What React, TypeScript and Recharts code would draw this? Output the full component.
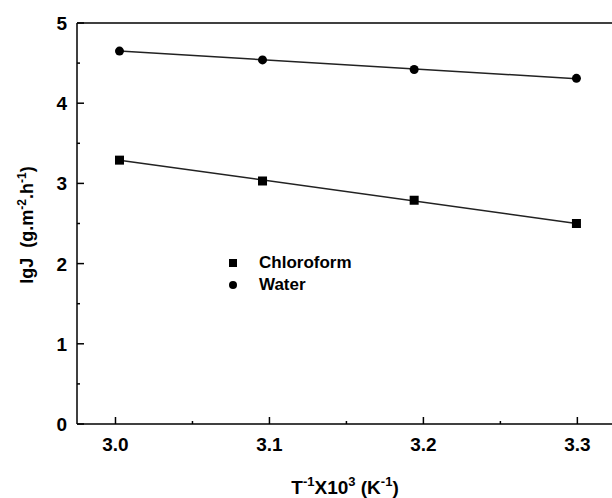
import { ComposedChart, Scatter, XAxis, YAxis, ReferenceLine } from "recharts";

const temps = [3.0026, 3.0955, 3.194, 3.2994];
const water = [4.65, 4.54, 4.42, 4.31];
const chloroform = [3.29, 3.03, 2.79, 2.5];

const fitX = [3.0026, 3.2994];
const waterFit = [4.65, 4.305];
const chloroformFit = [3.29, 2.5];

const xTicks = [3.0, 3.05, 3.1, 3.15, 3.2, 3.25, 3.3];
const yTicks = [0, 0.5, 1, 1.5, 2, 2.5, 3, 3.5, 4, 4.5, 5];

const waterData = temps.map((x, i) => ({ x, y: water[i] }));
const chloroformData = temps.map((x, i) => ({ x, y: chloroform[i] }));
const waterFitData = fitX.map((x, i) => ({ x, y: waterFit[i] }));
const chloroformFitData = fitX.map((x, i) => ({ x, y: chloroformFit[i] }));

const FONT = "'Liberation Sans', Arial, sans-serif";

const isMajor = (v: number, step: number) => Math.abs(v / step - Math.round(v / step)) < 1e-6;

function XTick({ x, y, payload }: any) {
  const major = isMajor(payload.value, 0.1);
  return (
    <g>
      <line x1={x} x2={x} y1={y} y2={y - (major ? 7 : 3)} stroke="#000" strokeWidth={1.5} />
      {major && (
        <text x={x} y={y + 27} textAnchor="middle" fontFamily={FONT} fontWeight="bold" fontSize={19} fill="#000">
          {payload.value.toFixed(1)}
        </text>
      )}
    </g>
  );
}

function YTick({ x, y, payload }: any) {
  const major = isMajor(payload.value, 1);
  return (
    <g>
      <line x1={x} x2={x + (major ? 7 : 3)} y1={y} y2={y} stroke="#000" strokeWidth={1.5} />
      {major && (
        <text x={x - 10} y={y + 7} textAnchor="end" fontFamily={FONT} fontWeight="bold" fontSize={19} fill="#000">
          {payload.value}
        </text>
      )}
    </g>
  );
}

function XTitle() {
  return (
    <text x={345} y={494} textAnchor="middle" fontFamily={FONT} fontWeight="bold" fontSize={19} fill="#000">
      T<tspan dy={-8} fontSize={13}>-1</tspan>
      <tspan dy={8}>X10</tspan>
      <tspan dy={-8} fontSize={13}>3</tspan>
      <tspan dy={8}> (K</tspan>
      <tspan dy={-8} fontSize={13}>-1</tspan>
      <tspan dy={8}>)</tspan>
    </text>
  );
}

function YTitle() {
  return (
    <text
      x={0}
      y={0}
      transform="translate(33,225) rotate(-90)"
      textAnchor="middle"
      fontFamily={FONT}
      fontWeight="bold"
      fontSize={18}
      fill="#000"
    >
      lgJ{"\u00a0\u00a0"}(g.m<tspan dy={-7} fontSize={12}>-2</tspan>
      <tspan dy={7}>.h</tspan>
      <tspan dy={-7} fontSize={12}>-1</tspan>
      <tspan dy={7}>)</tspan>
    </text>
  );
}

const Square = ({ cx, cy }: any) => <rect x={cx - 4.5} y={cy - 4.5} width={9} height={9} fill="#000" />;
const Circle = ({ cx, cy }: any) => <circle cx={cx} cy={cy} r={4.5} fill="#000" />;
const NoShape = () => <g />;

function LegendBox() {
  return (
    <div
      style={{
        position: "absolute",
        left: 229,
        top: 252,
        fontFamily: FONT,
        fontWeight: "bold",
        fontSize: 17,
        lineHeight: "22px",
        color: "#000",
      }}
    >
      <div style={{ display: "flex", alignItems: "center" }}>
        <span style={{ display: "inline-block", width: 8, height: 8, background: "#000", marginRight: 22 }} />
        Chloroform
      </div>
      <div style={{ display: "flex", alignItems: "center" }}>
        <span style={{ display: "inline-block", width: 8, height: 8, borderRadius: 4, background: "#000", marginRight: 22 }} />
        Water
      </div>
    </div>
  );
}

export default function App() {
  return (
    <div style={{ position: "absolute", left: 0, top: 0, width: 612, height: 498, background: "#fff" }}>
      <ComposedChart width={612} height={498} margin={{ top: 23, right: 0, left: 17, bottom: 0 }}>
        <XAxis
          type="number"
          dataKey="x"
          domain={[2.975, 3.3225]}
          ticks={xTicks}
          interval={0}
          allowDataOverflow
          tickSize={0}
          tickMargin={0}
          tick={<XTick />}
          height={74}
          axisLine={{ stroke: "#000", strokeWidth: 1.5 }}
          tickLine={false}
          label={<XTitle />}
        />
        <YAxis
          type="number"
          dataKey="y"
          domain={[0, 5]}
          ticks={yTicks}
          interval={0}
          tickSize={0}
          tickMargin={0}
          tick={<YTick />}
          width={60}
          axisLine={{ stroke: "#000", strokeWidth: 1.5 }}
          tickLine={false}
          label={<YTitle />}
        />
        <ReferenceLine y={5} stroke="#000" strokeWidth={1.5} />
        <Scatter
          data={chloroformFitData}
          line={{ stroke: "#222", strokeWidth: 1.5 }}
          shape={<NoShape />}
          legendType="none"
          isAnimationActive={false}
        />
        <Scatter
          data={waterFitData}
          line={{ stroke: "#222", strokeWidth: 1.5 }}
          shape={<NoShape />}
          legendType="none"
          isAnimationActive={false}
        />
        <Scatter name="Chloroform" data={chloroformData} shape={<Square />} isAnimationActive={false} />
        <Scatter name="Water" data={waterData} shape={<Circle />} isAnimationActive={false} />
      </ComposedChart>
      <LegendBox />
    </div>
  );
}
